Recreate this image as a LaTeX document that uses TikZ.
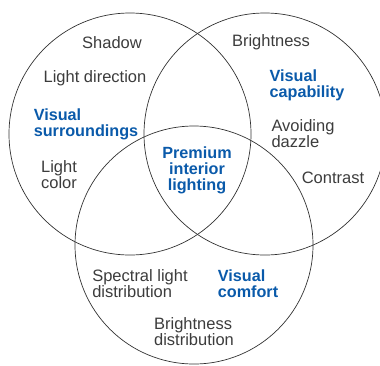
\documentclass[tikz,border=0pt]{standalone}
\usepackage{fontspec}
\setmainfont{Liberation Sans}
\definecolor{vblue}{RGB}{10,90,170}
\definecolor{vgray}{RGB}{60,60,60}
\definecolor{vline}{RGB}{50,50,50}
\begin{document}
\begin{tikzpicture}[x=1pt,y=-1pt,
  ring/.style={draw=vline,line width=0.7pt,circle,inner sep=0pt},
  lbl/.style={text=vgray,font=\fontsize{16.5}{16}\selectfont,inner sep=0pt},
  head/.style={text=vblue,font=\fontsize{16.2}{16}\selectfont\bfseries,inner sep=0pt}]
\useasboundingbox (0,0) rectangle (380,365);
\clip (0,0) rectangle (380,365);
\node[ring,minimum size=242pt] (cL) at (130,134) {};
\node[ring,minimum size=242pt] (cR) at (265,134) {};
\node[ring,minimum size=238pt] (cB) at (194,245) {};
\node[lbl] (shadow) at (112,43) {Shadow};
\node[lbl] (ldir) at (95,78) {Light direction};
\node[head,align=left] (vsur) at (86,124) {Visual\\surroundings};
\node[lbl,align=center] (lcol) at (59,175) {Light\\color};
\node[lbl] (bright) at (271,42) {Brightness};
\node[head,align=left] (vcap) at (307,85) {Visual\\capability};
\node[lbl,align=left] (dazzle) at (303,134) {Avoiding\\dazzle};
\node[lbl] (contrast) at (333,178) {Contrast};
\node[head,align=center] (prem) at (197,170) {Premium\\interior\\lighting};
\node[lbl,align=left] (spec) at (140,284) {Spectral light\\distribution};
\node[head,align=left] (vcom) at (248,284) {Visual\\comfort};
\node[lbl,align=left] (bdist) at (194,332) {Brightness\\distribution};
\end{tikzpicture}
\end{document}
